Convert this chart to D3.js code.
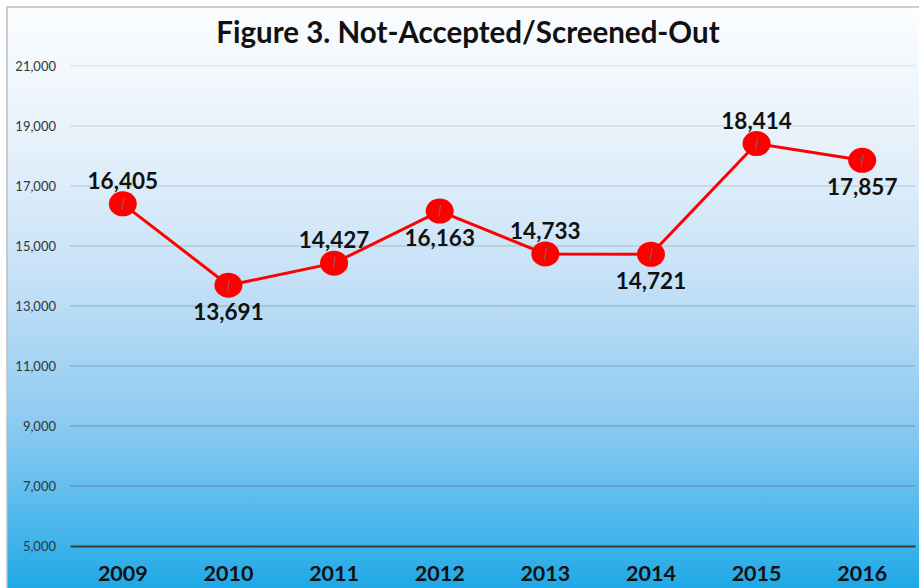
<!DOCTYPE html>
<html>
<head>
<meta charset="utf-8">
<script src="https://cdn.jsdelivr.net/npm/d3@7"></script>
<style>
  html, body { margin: 0; padding: 0; background: #ffffff; }
  svg { display: block; }
</style>
</head>
<body>
<svg id="chart" width="919" height="588"></svg>
<script>
const titleText = "Figure 3. Not-Accepted/Screened-Out";
const years = ["2009", "2010", "2011", "2012", "2013", "2014", "2015", "2016"];
const values = [16405, 13691, 14427, 16163, 14733, 14721, 18414, 17857];
const labelSide = ["above", "below", "above", "below", "above", "below", "above", "below"];
const yTicks = [5000, 7000, 9000, 11000, 13000, 15000, 17000, 19000, 21000];

const W = 919, H = 588;
const margin = { left: 70, right: 4, top: 66, bottom: 42 };
const svg = d3.select("#chart");

const defs = svg.append("defs");
const grad = defs.append("linearGradient").attr("id", "bg")
  .attr("x1", 0).attr("y1", 0).attr("x2", 0).attr("y2", 1);
[[0, "#fbfdff"], [0.2, "#eaf3fb"], [0.45, "#c8e2f7"], [0.7, "#8fcbf1"], [0.9, "#45b5ec"], [1, "#19a7e5"]]
  .forEach(([o, c]) => grad.append("stop").attr("offset", o).attr("stop-color", c));

svg.append("rect").attr("x", 7).attr("y", 7).attr("width", W).attr("height", H)
  .attr("fill", "url(#bg)").attr("stroke", "#bdbdbd").attr("stroke-width", 1.5);

const x = d3.scaleBand().domain(years).range([margin.left, W - margin.right]);
const y = d3.scaleLinear().domain([5000, 21000]).range([H - margin.bottom, margin.top]);

const gridColor = d3.scaleLinear().domain([21000, 5000]).range(["#d9dde3", "#4f7c9c"]);

// gridlines
svg.append("g").selectAll("line").data(yTicks.filter(t => t > 5000)).join("line")
  .attr("x1", margin.left).attr("x2", W - margin.right)
  .attr("y1", d => y(d)).attr("y2", d => y(d))
  .attr("stroke", d => gridColor(d)).attr("stroke-width", 1);

// y axis labels
const yAxis = d3.axisLeft(y).tickValues(yTicks).tickSize(0).tickPadding(14)
  .tickFormat(d3.format(","));
const gy = svg.append("g").attr("transform", `translate(${margin.left},0)`).call(yAxis);
gy.select(".domain").remove();
gy.selectAll("text").attr("font-family", "Lato, 'Open Sans', sans-serif")
  .attr("font-size", 13).attr("fill", "#333");

// x axis
const xAxis = d3.axisBottom(x).tickSize(0).tickPadding(20);
const gx = svg.append("g").attr("transform", `translate(0,${y(5000)})`).call(xAxis);
gx.select(".domain").attr("stroke", "#3a3a3a").attr("stroke-width", 2.2);
gx.selectAll("text").attr("font-family", "Lato, 'Open Sans', sans-serif")
  .attr("font-size", 21.5).attr("font-weight", "bold").attr("fill", "#111");

// line
const cx = (d, i) => x(years[i]) + x.bandwidth() / 2;
const line = d3.line().x((d, i) => cx(d, i)).y(d => y(d));
svg.append("path").datum(values).attr("d", line)
  .attr("fill", "none").attr("stroke", "#ff0000").attr("stroke-width", 3);

// markers
const m = svg.append("g");
m.selectAll("ellipse").data(values).join("ellipse")
  .attr("cx", cx).attr("cy", d => y(d)).attr("rx", 14).attr("ry", 12.5)
  .attr("fill", "#ff0000");
m.selectAll("line").data(values).join("line")
  .attr("x1", (d, i) => cx(d, i) + 1).attr("x2", (d, i) => cx(d, i) - 1)
  .attr("y1", d => y(d) - 6).attr("y2", d => y(d) + 6)
  .attr("stroke", "#7a6a6a").attr("stroke-width", 1);

// labels
svg.append("g").selectAll("text").data(values).join("text")
  .attr("x", cx)
  .attr("y", (d, i) => labelSide[i] === "above" ? y(d) - 15 : y(d) + 35)
  .attr("text-anchor", "middle")
  .attr("font-family", "Lato, 'Open Sans', sans-serif")
  .attr("font-size", 22.5).attr("font-weight", "bold").attr("fill", "#111")
  .text(d => d3.format(",")(d));

// title
svg.append("text").attr("x", 468).attr("y", 43).attr("text-anchor", "middle")
  .attr("font-family", "Lato, 'Open Sans', sans-serif")
  .attr("font-size", 29.5).attr("font-weight", "bold").attr("fill", "#111")
  .text(titleText);
</script>
</body>
</html>
